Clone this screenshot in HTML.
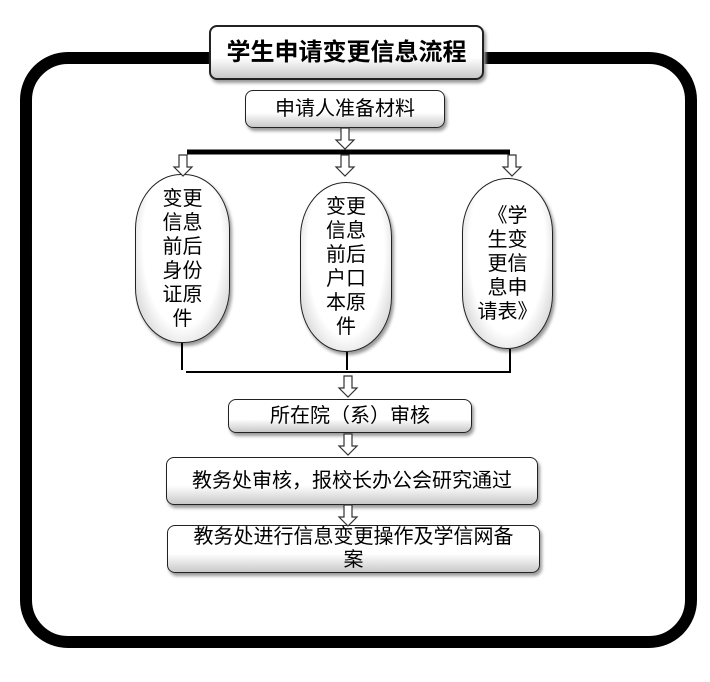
<!DOCTYPE html>
<html><head><meta charset="utf-8"><style>
body{margin:0;width:710px;height:682px;background:#fff;position:relative;overflow:hidden;font-family:"Liberation Sans","Noto Sans CJK SC",sans-serif}
.b{position:absolute;box-sizing:border-box;border:1.5px solid #222;border-radius:8px;background:linear-gradient(#fff 0%,#fff 60%,#c8c8c8 100%);box-shadow:2px 3px 3px #999;display:flex;align-items:center;justify-content:center;text-align:center;color:#000;font-size:20px;line-height:24px}
.o{position:absolute;box-sizing:border-box;border:1.5px solid #222;border-radius:46px/55px;background:radial-gradient(ellipse at 50% 40%,#fff 60%,#bbb 100%);box-shadow:2px 3px 3px #999;display:flex;align-items:center;justify-content:center;text-align:center;font-size:20px;line-height:24px}
svg{position:absolute;left:0;top:0}
</style></head><body>
<svg width="710" height="682">
<rect x="26" y="58" width="665" height="584" rx="42" fill="#fff" stroke="#000" stroke-width="12"/>
</svg>
<div class="b" style="left:209px;top:25px;width:275px;height:55px;font-weight:bold;font-size:24px;border-width:2px">学生申请变更信息流程</div>
<div class="b" style="left:245px;top:90px;width:200px;height:38px">申请人准备材料</div>
<div class="o" style="left:135px;top:174px;width:95px;height:169px">变更<br>信息<br>前后<br>身份<br>证原<br>件</div>
<div class="o" style="left:300px;top:182px;width:92px;height:170px">变更<br>信息<br>前后<br>户口<br>本原<br>件</div>
<div class="o" style="left:462px;top:178px;width:91px;height:171px">《学<br>生变<br>更信<br>息申<br>请表》</div>
<div class="b" style="left:228px;top:399px;width:244px;height:34px">所在院（系）审核</div>
<div class="b" style="left:166px;top:457px;width:372px;height:48px">教务处审核，报校长办公会研究通过</div>
<div class="b" style="left:167px;top:525px;width:373px;height:48px;align-items:flex-start;line-height:23px;padding-top:0">教务处进行信息变更操作及学信网备<br>案</div>
<svg width="710" height="682">
<defs><g id="a"><path d="M-4 0 H4 V12 H9 L0 21 L-9 12 H-4 Z" fill="#fff" stroke="#333" stroke-width="1.2"/></g></defs>
<use href="#a" x="345" y="128"/>
<line x1="187" y1="152" x2="510" y2="152" stroke="#000" stroke-width="5"/>
<use href="#a" x="183" y="155"/>
<use href="#a" x="345" y="155"/>
<use href="#a" x="512" y="155"/>
<g stroke="#000" stroke-width="2" fill="none">
<line x1="182" y1="343" x2="182" y2="370"/>
<line x1="347" y1="352" x2="347" y2="370"/>
<line x1="510" y1="349" x2="510" y2="373"/>
<line x1="186" y1="372" x2="511" y2="372"/>
</g>
<use href="#a" x="348" y="376"/>
<use href="#a" x="348" y="434"/>
<use href="#a" x="348" y="505"/>
</svg>
</body></html>
